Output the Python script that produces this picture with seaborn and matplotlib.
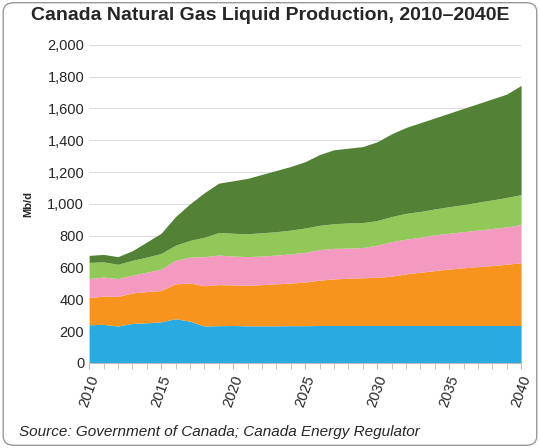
import numpy as np
import matplotlib.pyplot as plt
import seaborn as sns
from matplotlib.patches import FancyBboxPatch

years = np.arange(2010, 2041)

# cumulative tops of each stacked layer (Mb/d)
blue_top = [240, 242, 232, 248, 252, 258, 278, 262, 232, 234, 235, 233, 233, 233, 234, 234,
            235, 235, 235, 235, 235, 235, 235, 235, 235, 235, 235, 235, 235, 235, 235]
orange_top = [410, 420, 418, 440, 448, 455, 497, 502, 485, 492, 490, 488, 492, 497, 502, 508,
              520, 528, 532, 535, 538, 545, 560, 570, 580, 590, 598, 605, 612, 620, 630]
pink_top = [530, 540, 530, 552, 570, 590, 645, 665, 668, 678, 672, 668, 672, 678, 685, 695,
            712, 720, 722, 725, 740, 762, 778, 790, 805, 815, 825, 835, 845, 855, 870]
lgreen_top = [632, 635, 620, 645, 665, 688, 740, 770, 790, 820, 815, 812, 818, 825, 835, 848,
              865, 875, 880, 882, 895, 920, 940, 952, 968, 982, 995, 1010, 1025, 1040, 1058]
total = [676, 682, 668, 705, 760, 815, 920, 1000, 1070, 1130, 1145, 1160, 1185, 1210, 1235, 1265,
         1310, 1340, 1350, 1360, 1390, 1440, 1480, 1510, 1540, 1570, 1600, 1630, 1660, 1690, 1745]

colors = ['#29abe2', '#f7941d', '#f49ac1', '#92c85a', '#538135']

sns.set_style('white')
plt.rcParams['font.family'] = ['Arial', 'Liberation Sans', 'DejaVu Sans']

tops = np.array([blue_top, orange_top, pink_top, lgreen_top, total])
layers = np.diff(np.vstack([np.zeros(len(years)), tops]), axis=0)

fig = plt.figure(figsize=(5.4, 4.48), dpi=100)
fig.patches.append(FancyBboxPatch((0.006, 0.006), 0.988, 0.988, boxstyle='round,pad=0,rounding_size=0.02',
                                  transform=fig.transFigure, fill=False, edgecolor='#999999', linewidth=1))
ax = fig.add_axes([0.165, 0.19, 0.8, 0.71])
ax.stackplot(years, layers, colors=colors, linewidth=0)

ax.set_xlim(2010, 2040)
ax.set_ylim(0, 2000)
ax.set_yticks(range(0, 2001, 200))
ax.set_yticklabels([f'{v:,}' for v in range(0, 2001, 200)], fontsize=10.5)
ax.set_xticks(range(2010, 2041, 5))
ax.set_xticks(range(2010, 2041), minor=True)
ax.set_xticklabels([str(y) for y in range(2010, 2041, 5)], rotation=70, fontsize=10.5)
ax.tick_params(axis='x', which='both', length=4, color='#bbbbbb', direction='out', bottom=True)
ax.tick_params(axis='y', length=0)
ax.yaxis.grid(True, color='#dddddd', linewidth=0.8)
ax.set_axisbelow(True)
for s in ['top', 'right', 'left']:
    ax.spines[s].set_visible(False)
ax.spines['bottom'].set_color('#bbbbbb')
ax.set_ylabel('Mb/d', fontsize=8, fontweight='bold', labelpad=10)

fig.text(0.5, 0.965, 'Canada Natural Gas Liquid Production, 2010\u20132040E', ha='center', va='center',
         fontsize=14, fontweight='bold')
fig.text(0.035, 0.035, 'Source: Government of Canada; Canada Energy Regulator', ha='left', va='center',
         fontsize=11, style='italic')

fig.savefig('out.png', dpi=100)
